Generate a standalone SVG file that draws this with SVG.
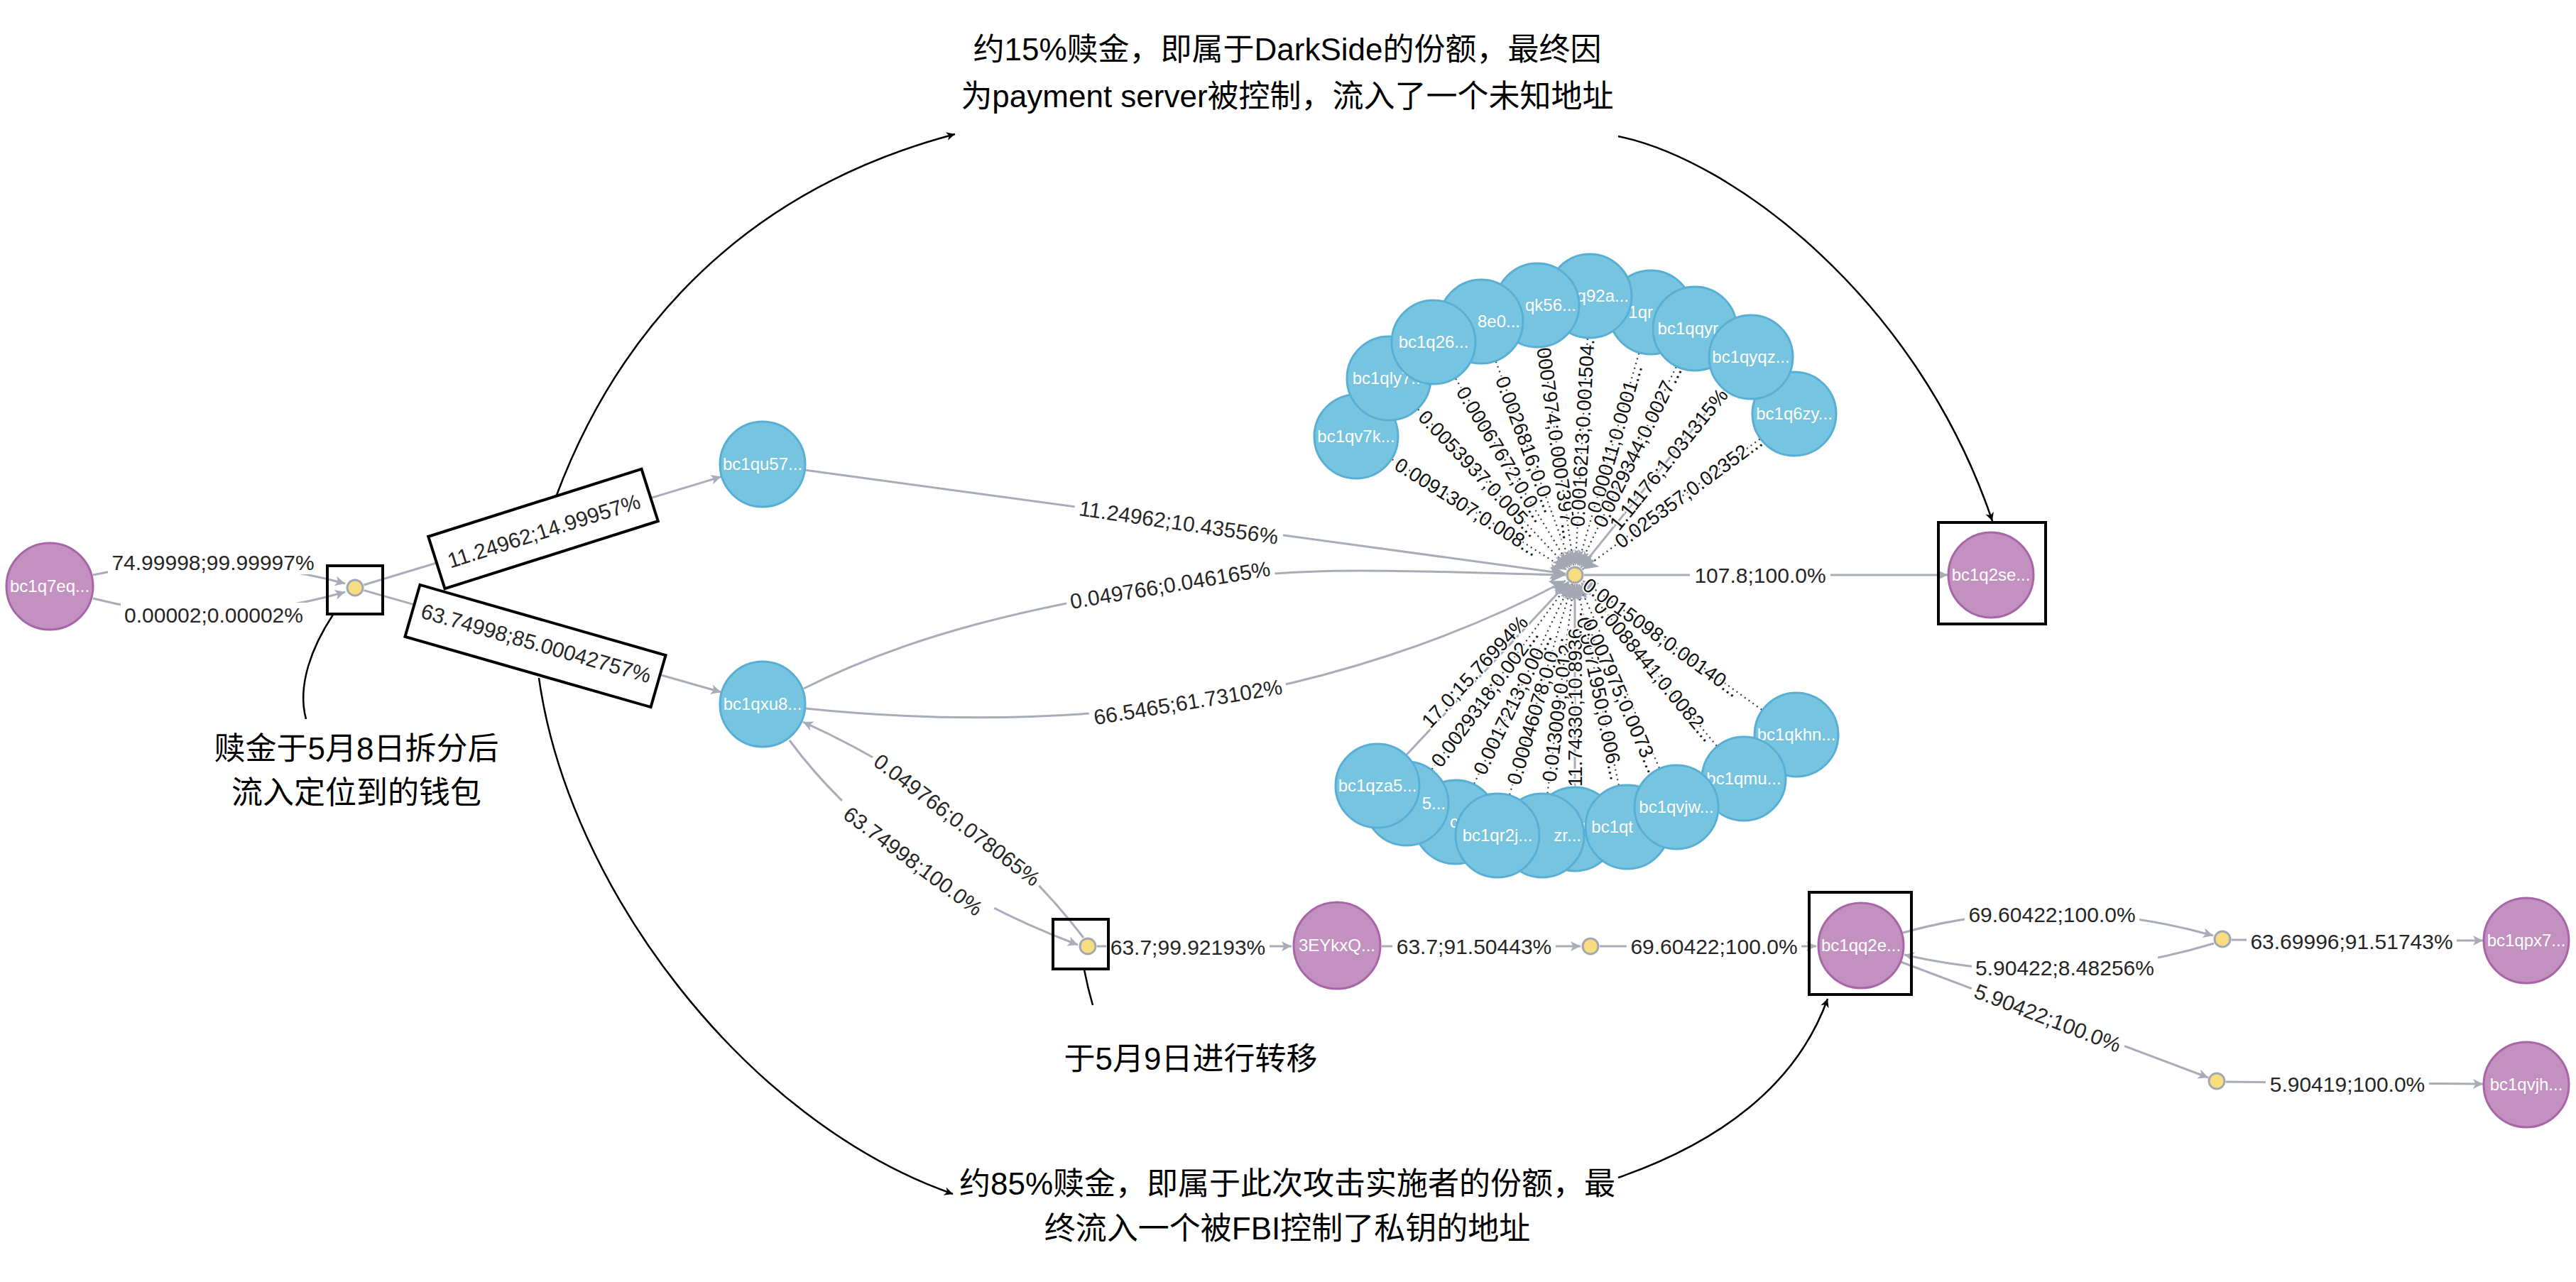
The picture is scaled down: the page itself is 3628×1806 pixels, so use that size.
<svg xmlns="http://www.w3.org/2000/svg" width="3628" height="1806" viewBox="0 0 3628 1806">
<defs>
<style>
.pn circle{fill:#c291c0;stroke:#a865a8;stroke-width:3}
.bn circle{fill:#77c4e0;stroke:#58afd4;stroke-width:3}
.yn circle{fill:#f8dc80;stroke:#a3a7b2;stroke-width:3}
.nl{font-family:"Liberation Sans",Arial,sans-serif;font-size:24px;fill:#fff;text-anchor:middle}
.nr{font-family:"Liberation Sans",Arial,sans-serif;font-size:24px;fill:#fff;text-anchor:end}
.e{fill:none;stroke:#a9adb9;stroke-width:3}
.ed{fill:none;stroke:#3a3a3a;stroke-width:2.2;stroke-dasharray:2 5}
.el{font-family:"Liberation Sans",Arial,sans-serif;font-size:30px;fill:#262626;text-anchor:middle}
.fl{font-family:"Liberation Sans",Arial,sans-serif;font-size:28px;fill:#111;text-anchor:middle;paint-order:stroke;stroke:#fff;stroke-width:4px}
.bg{fill:#fff}
.box{fill:none;stroke:#000;stroke-width:4}
.lbox{fill:#fff;stroke:#000;stroke-width:4}
.cv{fill:none;stroke:#000;stroke-width:2.5}
.ann{font-family:"Liberation Sans","Noto Sans CJK SC",sans-serif;font-size:44px;fill:#000;text-anchor:middle}
</style>
<marker id="ga" viewBox="0 0 10 10" refX="10" refY="5" markerWidth="19" markerHeight="14" markerUnits="userSpaceOnUse" orient="auto"><path d="M0,0 L10,5 L0,10 L2.5,5 z" fill="#a9adb9"/></marker>
<marker id="gb" viewBox="0 0 10 10" refX="10" refY="5" markerWidth="28" markerHeight="22" markerUnits="userSpaceOnUse" orient="auto"><path d="M0,0 L10,5 L0,10 L2.5,5 z" fill="#a4a8b4"/></marker>
<marker id="ba" viewBox="0 0 10 10" refX="10" refY="5" markerWidth="16" markerHeight="12" markerUnits="userSpaceOnUse" orient="auto"><path d="M0,0 L10,5 L0,10 L3,5 z" fill="#000"/></marker>
</defs>
<rect width="3628" height="1806" fill="#fff"/>

<g id="connectors">
<!-- fan edges top -->
<path class="ed" d="M1960.7,647.1 L2207,803" marker-end="url(#gb)"/>
<path class="ed" d="M1997.2,576.6 L2209.1,800.6" marker-end="url(#gb)"/>
<path class="ed" d="M2050.1,533.3 L2211.3,798.9" marker-end="url(#gb)"/>
<path class="ed" d="M2106.8,509.3 L2213.5,797.8" marker-end="url(#gb)"/>
<path class="ed" d="M2173.3,489.4 L2216.2,797.1" marker-end="url(#gb)"/>
<path class="ed" d="M2235.8,476.9 L2218.7,797" marker-end="url(#gb)"/>
<path class="ed" d="M2308.3,497.6 L2221.6,797.5" marker-end="url(#gb)"/>
<path class="ed" d="M2360.7,516.9 L2223.7,798.3" marker-end="url(#gb)"/>
<path class="e" d="M2428.3,549.7 L2226.2,799.9" marker-end="url(#gb)"/>
<path class="ed" d="M2478.6,618.5 L2228.5,802.3" marker-end="url(#gb)"/>
<!-- fan edges bottom -->
<path class="e" d="M1981,1063.2 L2209.1,819.5" marker-end="url(#gb)"/>
<path class="ed" d="M2016.6,1083.7 L2210.3,820.5" marker-end="url(#gb)"/>
<path class="ed" d="M2076.1,1104 L2212.3,821.7" marker-end="url(#gb)"/>
<path class="ed" d="M2126.1,1119.5 L2214.3,822.5" marker-end="url(#gb)"/>
<path class="ed" d="M2179.4,1117.5 L2216.4,822.9" marker-end="url(#gb)"/>
<path class="e" d="M2218,1108 L2218,823" marker-end="url(#gb)"/>
<path class="ed" d="M2279.8,1106.2 L2220.7,822.7" marker-end="url(#gb)"/>
<path class="ed" d="M2337,1082 L2223.2,821.9" marker-end="url(#gb)"/>
<path class="ed" d="M2417.7,1050.8 L2226.3,820" marker-end="url(#gb)"/>
<path class="ed" d="M2481.3,999.9 L2228.5,817.6" marker-end="url(#gb)"/>
<!-- fan labels -->
<text class="fl" transform="translate(2066,714) rotate(32.3)" dy="0.35em">0.0091307;0.008...</text>
<text class="fl" transform="translate(2083,667) rotate(46.6)" dy="0.35em">0.0053937;0.005...</text>
<text class="fl" transform="translate(2115,640) rotate(58.75)" dy="0.35em">0.00067672;0.0...</text>
<text class="fl" transform="translate(2150,626) rotate(69.7)" dy="0.35em">0.0026816;0.0...</text>
<text class="fl" transform="translate(2191,613) rotate(82.1)" dy="0.35em">0.0007974;0.0007397...</text>
<text class="fl" transform="translate(2229,602) rotate(-86.9)" dy="0.35em">0.0016213;0.001504...</text>
<text class="fl" transform="translate(2274,618) rotate(-73.9)" dy="0.35em">0.00011;0.0001...</text>
<text class="fl" transform="translate(2306,629) rotate(-64)" dy="0.35em">0.0029344;0.0027...</text>
<text class="fl" transform="translate(2350,647) rotate(-51.1)" dy="0.35em">1.11176;1.031315%</text>
<text class="fl" transform="translate(2378,692) rotate(-36.3)" dy="0.35em">0.025357;0.02352...</text>
<text class="fl" transform="translate(2077,946) rotate(-46.9)" dy="0.35em">17.0;15.76994%</text>
<text class="fl" transform="translate(2091,983) rotate(-53.6)" dy="0.35em">0.0029318;0.002...</text>
<text class="fl" transform="translate(2130,991) rotate(-64.2)" dy="0.35em">0.0017213;0.00...</text>
<text class="fl" transform="translate(2162,1000) rotate(-73.5)" dy="0.35em">0.00046078;0.0...</text>
<text class="fl" transform="translate(2195,993) rotate(-82.9)" dy="0.35em">0.013009;0.012...</text>
<text class="fl" transform="translate(2218,985) rotate(-90)" dy="0.35em">11.74330;10.8936...</text>
<text class="fl" transform="translate(2254,984) rotate(78.2)" dy="0.35em">0.0071950;0.006...</text>
<text class="fl" transform="translate(2284,980) rotate(66.4)" dy="0.35em">0.007975;0.0073...</text>
<text class="fl" transform="translate(2330,945) rotate(50.3)" dy="0.35em">0.0088441;0.0082...</text>
<text class="fl" transform="translate(2340,898) rotate(35.8)" dy="0.35em">0.0015098;0.00140...</text>

<!-- main edges -->
<path class="e" d="M131,810 Q300,773 486,822" marker-end="url(#ga)"/>
<g transform="translate(300,792)"><rect class="bg" x="-148" y="-17" width="296" height="34"/><text class="el" dy="0.35em">74.99998;99.99997%</text></g>
<path class="e" d="M131,843 Q300,887 486,834" marker-end="url(#ga)"/>
<g transform="translate(301,866)"><rect class="bg" x="-131" y="-17" width="262" height="34"/><text class="el" dy="0.35em">0.00002;0.00002%</text></g>

<path class="e" d="M512.4,824 L1015.6,671.6" marker-end="url(#ga)"/>
<g transform="translate(765,745) rotate(-17.6)"><rect class="lbox" x="-157.5" y="-38.5" width="315" height="77"/><text class="el" y="3" dy="0.35em">11.24962;14.99957%</text></g>
<path class="e" d="M512.5,831.6 L1015.4,975" marker-end="url(#ga)"/>
<g transform="translate(754,910) rotate(16)"><rect class="lbox" x="-180" y="-38" width="360" height="76"/><text class="el" y="-4" dy="0.35em">63.74998;85.00042757%</text></g>

<path class="e" d="M1134.4,662.2 L2205.1,808.2" marker-end="url(#gb)"/>
<g transform="translate(1660,736) rotate(8.3)"><rect class="bg" x="-148" y="-17" width="296" height="34"/><text class="el" dy="0.35em">11.24962;10.43556%</text></g>
<path class="e" d="M1132,970 C1280,895 1450,855 1648,824 S1990,806 2205,810" marker-end="url(#gb)"/>
<g transform="translate(1648,824) rotate(-9.5)"><rect class="bg" x="-148" y="-17" width="296" height="34"/><text class="el" dy="0.35em">0.049766;0.046165%</text></g>
<path class="e" d="M1134,998 C1300,1015 1480,1018 1673,990 S2050,900 2205,818" marker-end="url(#gb)"/>
<g transform="translate(1673,989) rotate(-9.4)"><rect class="bg" x="-140" y="-17" width="280" height="34"/><text class="el" dy="0.35em">66.5465;61.73102%</text></g>

<path class="e" d="M1112,1043 Q1250,1230 1518,1331" marker-end="url(#ga)"/>
<g transform="translate(1286,1213) rotate(36.7)"><rect class="bg" x="-131" y="-17" width="262" height="34"/><text class="el" dy="0.35em">63.74998;100.0%</text></g>
<path class="e" d="M1526,1321 Q1380,1130 1131,1017" marker-end="url(#ga)"/>
<g transform="translate(1348,1155) rotate(37.4)"><rect class="bg" x="-148" y="-17" width="296" height="34"/><text class="el" dy="0.35em">0.049766;0.078065%</text></g>

<path class="e" d="M1545,1333 L1819,1333" marker-end="url(#ga)"/>
<g transform="translate(1673,1334)"><rect class="bg" x="-115" y="-17" width="230" height="34"/><text class="el" dy="0.35em">63.7;99.92193%</text></g>
<path class="e" d="M1946,1333 L2226,1333" marker-end="url(#ga)"/>
<g transform="translate(2076,1333)"><rect class="bg" x="-115" y="-17" width="230" height="34"/><text class="el" dy="0.35em">63.7;91.50443%</text></g>
<path class="e" d="M2253,1333 L2558,1333" marker-end="url(#ga)"/>
<g transform="translate(2414,1333)"><rect class="bg" x="-123" y="-17" width="246" height="34"/><text class="el" dy="0.35em">69.60422;100.0%</text></g>

<path class="e" d="M2680,1314 Q2890,1255 3117,1318" marker-end="url(#ga)"/>
<g transform="translate(2890,1288)"><rect class="bg" x="-123" y="-17" width="246" height="34"/><text class="el" dy="0.35em">69.60422;100.0%</text></g>
<path class="e" d="M3118,1329 Q2900,1395 2682,1345" marker-end="url(#ga)"/>
<g transform="translate(2908,1363)"><rect class="bg" x="-131" y="-17" width="262" height="34"/><text class="el" dy="0.35em">5.90422;8.48256%</text></g>
<path class="e" d="M2677,1355 L3110,1518" marker-end="url(#ga)"/>
<g transform="translate(2884,1434) rotate(21)"><rect class="bg" x="-115" y="-17" width="230" height="34"/><text class="el" dy="0.35em">5.90422;100.0%</text></g>
<path class="e" d="M3143,1324 L3497,1325" marker-end="url(#ga)"/>
<g transform="translate(3312,1326)"><rect class="bg" x="-148" y="-17" width="296" height="34"/><text class="el" dy="0.35em">63.69996;91.51743%</text></g>
<path class="e" d="M3135,1524 L3497,1527" marker-end="url(#ga)"/>
<g transform="translate(3306,1527)"><rect class="bg" x="-115" y="-17" width="230" height="34"/><text class="el" dy="0.35em">5.90419;100.0%</text></g>
<path class="e" d="M2231,810 L2743,810" marker-end="url(#ga)"/>
<g transform="translate(2479,810)"><rect class="bg" x="-99" y="-17" width="198" height="34"/><text class="el" dy="0.35em">107.8;100.0%</text></g>
</g>

<!-- nodes: main path -->
<g id="n-bc1q7eq" class="pn"><circle cx="70" cy="826" r="61"/><text class="nl" x="70" y="826" dy="0.35em">bc1q7eq...</text></g>
<g id="n-tx1" class="yn"><circle cx="500" cy="828" r="11"/></g>
<g id="n-bc1qu57" class="bn"><circle cx="1074" cy="654" r="60"/><text class="nl" x="1074" y="654" dy="0.35em">bc1qu57...</text></g>
<g id="n-bc1qxu8" class="bn"><circle cx="1074" cy="992" r="60"/><text class="nl" x="1074" y="992" dy="0.35em">bc1qxu8...</text></g>
<g id="n-tx2" class="yn"><circle cx="1532" cy="1333" r="11"/></g>
<g id="n-3EYkxQ" class="pn"><circle cx="1883" cy="1332" r="61"/><text class="nl" x="1883" y="1332" dy="0.35em">3EYkxQ...</text></g>
<g id="n-tx3" class="yn"><circle cx="2240" cy="1333" r="11"/></g>
<g id="n-bc1qq2e" class="pn"><circle cx="2621" cy="1332" r="60"/><text class="nl" x="2621" y="1332" dy="0.35em">bc1qq2e...</text></g>
<g id="n-tx4" class="yn"><circle cx="3130" cy="1323" r="11"/></g>
<g id="n-tx5" class="yn"><circle cx="3122" cy="1523" r="11"/></g>
<g id="n-bc1qpx7" class="pn"><circle cx="3558" cy="1325" r="60"/><text class="nl" x="3558" y="1325" dy="0.35em">bc1qpx7...</text></g>
<g id="n-bc1qvjh" class="pn"><circle cx="3558" cy="1528" r="60"/><text class="nl" x="3558" y="1528" dy="0.35em">bc1qvjh...</text></g>
<g id="n-bc1q2se" class="pn"><circle cx="2804" cy="810" r="60"/><text class="nl" x="2804" y="810" dy="0.35em">bc1q2se...</text></g>
<g id="n-hub" class="yn"><circle cx="2218" cy="810" r="11"/></g>

<!-- top fan nodes -->
<g id="n-bc1qv7k" class="bn"><circle cx="1910" cy="615" r="59"/><text class="nl" x="1910" y="615" dy="0.35em">bc1qv7k...</text></g>
<g id="n-bc1qly7" class="bn"><circle cx="1956" cy="533" r="59"/><text class="nl" x="1956" y="533" dy="0.35em">bc1qly7...</text></g>
<g id="n-bc1qr" class="bn"><circle cx="2325" cy="440" r="59"/><text class="nr" x="2328" y="440" dy="0.35em">1qr</text></g>
<g id="n-bc1q92a" class="bn"><circle cx="2239" cy="417" r="59"/><text class="nr" x="2294" y="417" dy="0.35em">q92a...</text></g>
<g id="n-bc1qk56" class="bn"><circle cx="2165" cy="430" r="59"/><text class="nr" x="2220" y="430" dy="0.35em">qk56...</text></g>
<g id="n-bc1q8e0" class="bn"><circle cx="2086" cy="453" r="59"/><text class="nr" x="2141" y="453" dy="0.35em">8e0...</text></g>
<g id="n-bc1q26" class="bn"><circle cx="2019" cy="482" r="59"/><text class="nl" x="2019" y="482" dy="0.35em">bc1q26...</text></g>
<g id="n-bc1qqyr" class="bn"><circle cx="2387" cy="463" r="59"/><text class="nr" x="2420" y="463" dy="0.35em">bc1qqyr</text></g>
<g id="n-bc1q6zy" class="bn"><circle cx="2527" cy="583" r="59"/><text class="nl" x="2527" y="583" dy="0.35em">bc1q6zy...</text></g>
<g id="n-bc1qyqz" class="bn"><circle cx="2466" cy="503" r="59"/><text class="nl" x="2466" y="503" dy="0.35em">bc1qyqz...</text></g>

<!-- bottom fan nodes -->
<g id="n-bc1qk" class="bn"><circle cx="2218" cy="1168" r="59"/><text class="nr" x="2240" y="1168" dy="0.35em">k</text></g>
<g id="n-bc1qzr" class="bn"><circle cx="2172" cy="1177" r="59"/><text class="nr" x="2227" y="1177" dy="0.35em">zr...</text></g>
<g id="n-bc1qc" class="bn"><circle cx="2050" cy="1158" r="59"/><text class="nr" x="2054" y="1158" dy="0.35em">c</text></g>
<g id="n-bc1q5" class="bn"><circle cx="1981" cy="1132" r="59"/><text class="nr" x="2036" y="1132" dy="0.35em">5...</text></g>
<g id="n-bc1qza5" class="bn"><circle cx="1940" cy="1107" r="59"/><text class="nl" x="1940" y="1107" dy="0.35em">bc1qza5...</text></g>
<g id="n-bc1qr2j" class="bn"><circle cx="2109" cy="1177" r="59"/><text class="nl" x="2109" y="1177" dy="0.35em">bc1qr2j...</text></g>
<g id="n-bc1qt" class="bn"><circle cx="2292" cy="1165" r="59"/><text class="nr" x="2300" y="1165" dy="0.35em">bc1qt</text></g>
<g id="n-bc1qkhn" class="bn"><circle cx="2530" cy="1035" r="59"/><text class="nl" x="2530" y="1035" dy="0.35em">bc1qkhn...</text></g>
<g id="n-bc1qmu" class="bn"><circle cx="2456" cy="1097" r="59"/><text class="nl" x="2456" y="1097" dy="0.35em">bc1qmu...</text></g>
<g id="n-bc1qvjw" class="bn"><circle cx="2361" cy="1137" r="59"/><text class="nl" x="2361" y="1137" dy="0.35em">bc1qvjw...</text></g>

<!-- annotations -->
<g id="annotations">
<rect class="box" x="461" y="797" width="78" height="68"/>
<rect class="box" x="2730" y="736" width="151" height="143"/>
<rect class="box" x="1483" y="1295" width="78" height="70"/>
<rect class="box" x="2548" y="1257" width="144" height="144"/>
<path class="cv" d="M783,700 C850,520 1000,280 1345,189" marker-end="url(#ba)"/>
<path class="cv" d="M2279,192 C2440,225 2700,420 2806,734" marker-end="url(#ba)"/>
<path class="cv" d="M759,955 C800,1250 1050,1580 1342,1682" marker-end="url(#ba)"/>
<path class="cv" d="M2279,1659 C2420,1610 2530,1530 2574,1407" marker-end="url(#ba)"/>
<path class="cv" d="M469,866 C440,910 418,965 431,1013"/>
<path class="cv" d="M1527,1366 Q1532,1392 1539,1416"/>
<text class="ann" x="1813" y="70" dy="0.35em">约15%赎金，即属于DarkSide的份额，最终因</text>
<text class="ann" x="1813" y="136" dy="0.35em">为payment server被控制，流入了一个未知地址</text>
<text class="ann" x="1813" y="1668" dy="0.35em">约85%赎金，即属于此次攻击实施者的份额，最</text>
<text class="ann" x="1813" y="1731" dy="0.35em">终流入一个被FBI控制了私钥的地址</text>
<text class="ann" x="502" y="1055" dy="0.35em">赎金于5月8日拆分后</text>
<text class="ann" x="502" y="1117" dy="0.35em">流入定位到的钱包</text>
<text class="ann" x="1677" y="1492" dy="0.35em">于5月9日进行转移</text>
</g>
</svg>
